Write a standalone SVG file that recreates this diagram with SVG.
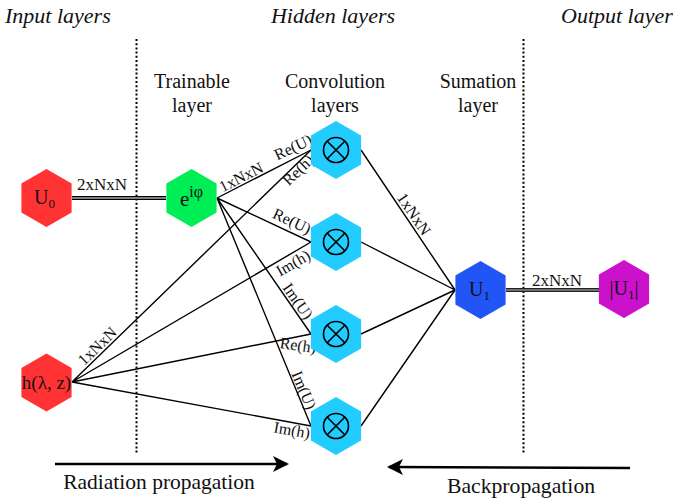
<svg xmlns="http://www.w3.org/2000/svg" width="674" height="502" viewBox="0 0 674 502">
<style>
text{font-family:"Liberation Serif","Times New Roman",serif;fill:#111}
.title{font-size:22px;font-style:italic}
.layer{font-size:20px;text-anchor:middle}
.lbl{font-size:16px;text-anchor:middle}
.node{font-size:19px;text-anchor:middle}
.edge{stroke:#000;stroke-width:1.4;fill:none}
.dot{stroke:#000;stroke-width:2;stroke-dasharray:2 2.2;fill:none}
.cross{stroke:#000;stroke-width:1.6;fill:none}
</style>
<defs>
<polygon id="hex" points="0,-29 25.1,-14.5 25.1,14.5 0,29 -25.1,14.5 -25.1,-14.5"/>
<g id="conv">
<use href="#hex" fill="#22CCFF"/>
<circle r="12.5" class="cross"/>
<path d="M-8.8,-8.8L8.8,8.8M8.8,-8.8L-8.8,8.8" class="cross"/>
</g>
<marker id="ah" viewBox="0 0 16 16" refX="14" refY="8" markerWidth="16" markerHeight="16" markerUnits="userSpaceOnUse" orient="auto">
<path d="M0,0L16,8L0,16L4,8Z" fill="#000"/>
</marker>
</defs>

<text class="title" x="5" y="23">Input layers</text>
<text class="title" x="333" y="23" text-anchor="middle">Hidden layers</text>
<text class="title" x="561" y="23">Output layer</text>

<line class="dot" x1="136.5" y1="39" x2="136.5" y2="454"/>
<line class="dot" x1="523.5" y1="39" x2="523.5" y2="454"/>

<text class="layer" x="192" y="88">Trainable</text>
<text class="layer" x="192" y="112">layer</text>
<text class="layer" x="335" y="88">Convolution</text>
<text class="layer" x="335" y="112">layers</text>
<text class="layer" x="478" y="88">Sumation</text>
<text class="layer" x="478" y="112">layer</text>

<g id="connectors">
<line x1="72" y1="198" x2="166" y2="198" stroke="#000" stroke-width="4"/>
<line x1="72" y1="198" x2="166" y2="198" stroke="#fff" stroke-width="1.2"/>
<line x1="506" y1="290" x2="599" y2="290" stroke="#222" stroke-width="4"/>
<line x1="506" y1="290" x2="599" y2="290" stroke="#bbb" stroke-width="1.2"/>
<path class="edge" d="M217,198L311,150M217,198L311,242M217,198L311,334M217,198L311,426"/>
<path class="edge" d="M72,382L311,150M72,382L311,242M72,382L311,334M72,382L311,426"/>
<path class="edge" d="M361,150L455,290M361,242L455,290M361,334L455,290M361,426L455,290"/>
<line x1="55" y1="464" x2="287" y2="464" stroke="#000" stroke-width="2.6" marker-end="url(#ah)"/>
<line x1="630" y1="468" x2="389" y2="467" stroke="#000" stroke-width="2.6" marker-end="url(#ah)"/>
<text class="lbl" x="102" y="190" style="font-size:17px">2xNxN</text>
<text class="lbl" x="557" y="286" style="font-size:17px">2xNxN</text>
<text class="lbl" transform="translate(241,177) rotate(-27)" y="5.5">1xNxN</text>
<text class="lbl" transform="translate(293,147) rotate(-25)" y="5.5">Re(U)</text>
<text class="lbl" transform="translate(298,170) rotate(-44)" y="5.5">Re(h)</text>
<text class="lbl" transform="translate(292,221) rotate(25)" y="5.5">Re(U)</text>
<text class="lbl" transform="translate(293,263) rotate(-30)" y="5.5">Im(h)</text>
<text class="lbl" transform="translate(298,301) rotate(55)" y="5.5">Im(U)</text>
<text class="lbl" transform="translate(298,345) rotate(8)" y="5.5">Re(h)</text>
<text class="lbl" transform="translate(304,390) rotate(67)" y="5.5">Im(U)</text>
<text class="lbl" transform="translate(292,430) rotate(10)" y="5.5">Im(h)</text>
<text class="lbl" transform="translate(97,346) rotate(-44)" y="5.5">1xNxN</text>
<text class="lbl" transform="translate(414,214) rotate(56)" y="5.5">1xNxN</text>
</g>

<g id="n-u0" transform="translate(46.5,198)">
<use href="#hex" fill="#FF3333"/>
<text class="node" x="-2" y="6" style="font-size:20px">U<tspan style="font-size:13px" dy="4">0</tspan></text>
</g>
<g id="n-phase" transform="translate(191.5,198)">
<use href="#hex" fill="#00EE55"/>
<text class="node" x="0" y="8" style="font-size:21px">e<tspan style="font-size:16px" dy="-9">iφ</tspan></text>
</g>
<g id="n-h" transform="translate(46.5,382.5)">
<use href="#hex" fill="#FF3333"/>
<text class="node" x="0" y="6">h(λ, z)</text>
</g>
<g id="n-c1" transform="translate(336,150)"><use href="#conv"/></g>
<g id="n-c2" transform="translate(336,242)"><use href="#conv"/></g>
<g id="n-c3" transform="translate(336,334)"><use href="#conv"/></g>
<g id="n-c4" transform="translate(336,426)"><use href="#conv"/></g>
<g id="n-u1" transform="translate(480.5,290)">
<use href="#hex" fill="#2255F5"/>
<text class="node" x="-1" y="6" style="font-size:20px">U<tspan style="font-size:13px" dy="4">1</tspan></text>
</g>
<g id="n-abs" transform="translate(624,289)">
<use href="#hex" fill="#CC11CC"/>
<text class="node" x="0" y="6" style="font-size:20px">|U<tspan style="font-size:13px" dy="4">1</tspan><tspan dy="-4">|</tspan></text>
</g>

<text x="159" y="489" text-anchor="middle" font-size="21.5">Radiation propagation</text>
<text x="521" y="493" text-anchor="middle" font-size="21.7">Backpropagation</text>
</svg>
